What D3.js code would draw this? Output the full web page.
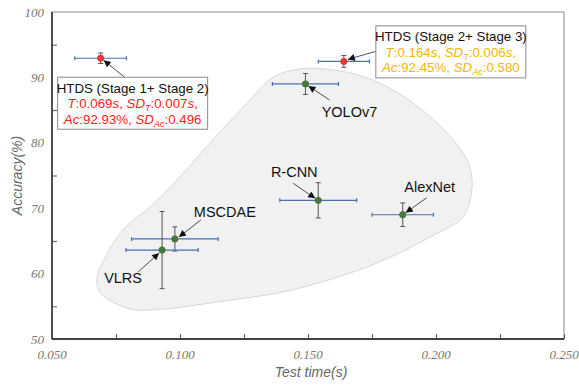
<!DOCTYPE html>
<html>
<head>
<meta charset="utf-8">
<script src="https://cdn.jsdelivr.net/npm/d3@7"></script>
<style>
  body { margin: 0; background: #fff; }
  svg { display: block; font-family: "Liberation Sans", Arial, sans-serif; }
</style>
</head>
<body>
<div id="chart"></div>
<script>
// ---- data ----
const models = ['HTDS12', 'HTDS23', 'YOLOv7', 'R-CNN', 'AlexNet', 'MSCDAE', 'VLRS'];
const testTime = [0.069, 0.164, 0.149, 0.154, 0.187, 0.098, 0.093];
const timeErr = [0.0101, 0.0100, 0.0129, 0.0150, 0.0120, 0.0169, 0.0141];
const accuracy = [92.93, 92.45, 89.0, 71.2, 69.0, 65.3, 63.6];
const accErr = [0.8, 0.9, 1.6, 2.7, 1.8, 1.85, 5.9];
const isHTDS = [true, true, false, false, false, false, false];

const xTicks = [0.050, 0.100, 0.150, 0.200, 0.250];
const yTicks = [50, 60, 70, 80, 90, 100];

// outline of the shaded region (time, accuracy)
const blobTime = [0.1469, 0.1652, 0.1781, 0.1910, 0.2043, 0.2121, 0.2141, 0.2133, 0.2102, 0.1977,
  0.1781, 0.1586, 0.1391, 0.1207, 0.0910, 0.0805, 0.0688, 0.0676, 0.0707, 0.0777, 0.0883, 0.0988,
  0.1145, 0.1273, 0.1359];
const blobAcc = [91.3, 90.8, 89.1, 86.1, 81.5, 77.4, 74.3, 71.3, 68.5, 65.6,
  61.8, 59.1, 57.1, 56.0, 54.5, 54.6, 57.1, 59.4, 62.4, 66.7, 70.2, 74.3,
  81.2, 86.5, 89.9];

// ---- layout ----
const width = 579, height = 386;
const margin = { top: 12, right: 15, bottom: 47, left: 52 };
const innerW = width - margin.left - margin.right;
const innerH = height - margin.top - margin.bottom;

const svg = d3.select('#chart').append('svg')
  .attr('width', width)
  .attr('height', height);

const x = d3.scaleLinear().domain([0.05, 0.25]).range([0, innerW]);
const y = d3.scaleLinear().domain([50, 100]).range([innerH, 0]);

const g = svg.append('g').attr('transform', `translate(${margin.left},${margin.top})`);

svg.append('defs').append('marker')
  .attr('id', 'arrow')
  .attr('viewBox', '0 0 10 10')
  .attr('refX', 10).attr('refY', 5)
  .attr('markerWidth', 9).attr('markerHeight', 7)
  .attr('markerUnits', 'userSpaceOnUse')
  .attr('orient', 'auto')
  .append('path')
  .attr('d', 'M0,0L10,5L0,10Z')
  .attr('fill', '#111');

// shaded region
const blob = blobTime.map((t, i) => [x(t), y(blobAcc[i])]);
g.append('path')
  .attr('d', d3.line().curve(d3.curveCatmullRomClosed.alpha(0.5))(blob))
  .attr('fill', '#f1f1f1')
  .attr('stroke', '#cfcfcf')
  .attr('stroke-width', 0.8);

// frame
g.append('rect')
  .attr('width', innerW).attr('height', innerH)
  .attr('fill', 'none')
  .attr('stroke', '#8a8a8a')
  .attr('stroke-width', 1);

// axes
const xAxis = d3.axisBottom(x).tickValues(d3.range(0.05, 0.2501, 0.025))
  .tickSize(-5).tickFormat('');
g.append('g').attr('class', 'x axis')
  .attr('transform', `translate(0,${innerH})`)
  .call(xAxis)
  .call(s => s.select('.domain').remove())
  .call(s => s.selectAll('line').attr('stroke', '#555'));

const yAxis = d3.axisLeft(y).tickValues([55, 65, 75, 85, 95])
  .tickSize(-5).tickFormat('');
g.append('g').attr('class', 'y axis')
  .call(yAxis)
  .call(s => s.select('.domain').remove())
  .call(s => s.selectAll('line').attr('stroke', '#555'));

g.append('line').attr('x1', 0).attr('x2', 0).attr('y1', 0).attr('y2', innerH)
  .attr('stroke', '#444').attr('stroke-width', 1.8);
g.append('line').attr('x1', 0).attr('x2', innerW).attr('y1', innerH).attr('y2', innerH)
  .attr('stroke', '#444').attr('stroke-width', 1.8);

// tick labels
g.selectAll('.xlab').data(xTicks).enter().append('text')
  .attr('x', d => x(d)).attr('y', innerH + 20)
  .attr('text-anchor', 'middle')
  .attr('font-family', '"Liberation Serif", "Times New Roman", serif')
  .attr('font-style', 'italic').attr('font-size', 13).attr('fill', '#777')
  .text(d => d3.format('.3f')(d));

g.selectAll('.ylab').data(yTicks).enter().append('text')
  .attr('x', -8).attr('y', d => y(d)).attr('dy', '0.35em')
  .attr('text-anchor', 'end')
  .attr('font-family', '"Liberation Serif", "Times New Roman", serif')
  .attr('font-style', 'italic').attr('font-size', 13).attr('fill', '#777')
  .text(d => d);

// axis titles
g.append('text')
  .attr('x', innerW / 2 + 3).attr('y', innerH + 38)
  .attr('text-anchor', 'middle')
  .attr('font-style', 'italic').attr('font-size', 14).attr('fill', '#666')
  .text('Test time(s)');

g.append('text')
  .attr('transform', `translate(-30,${innerH / 2}) rotate(-90)`)
  .attr('text-anchor', 'middle')
  .attr('font-style', 'italic').attr('font-size', 14).attr('fill', '#666')
  .text('Accuracy(%)');

// error bars
const pts = models.map((m, i) => ({
  m, t: testTime[i], te: timeErr[i], a: accuracy[i], ae: accErr[i], htds: isHTDS[i]
}));

const eb = g.append('g');
pts.forEach(d => {
  const cx = x(d.t), cy = y(d.a);
  const x0 = x(d.t - d.te), x1 = x(d.t + d.te);
  const y0 = y(d.a - d.ae), y1 = y(d.a + d.ae);
  const hb = eb.append('g').attr('stroke', '#4a6fb5').attr('stroke-width', 1.2);
  hb.append('line').attr('x1', x0).attr('x2', x1).attr('y1', cy).attr('y2', cy);
  hb.append('line').attr('x1', x0).attr('x2', x0).attr('y1', cy - 2).attr('y2', cy + 2);
  hb.append('line').attr('x1', x1).attr('x2', x1).attr('y1', cy - 2).attr('y2', cy + 2);
  const vb = eb.append('g').attr('stroke', '#555').attr('stroke-width', 1);
  vb.append('line').attr('x1', cx).attr('x2', cx).attr('y1', y0).attr('y2', y1);
  vb.append('line').attr('x1', cx - 2.5).attr('x2', cx + 2.5).attr('y1', y0).attr('y2', y0);
  vb.append('line').attr('x1', cx - 2.5).attr('x2', cx + 2.5).attr('y1', y1).attr('y2', y1);
});

g.selectAll('.pt').data(pts).enter().append('circle')
  .attr('class', 'pt')
  .attr('cx', d => x(d.t)).attr('cy', d => y(d.a))
  .attr('r', 3.2)
  .attr('fill', d => d.htds ? '#e8383a' : '#467a38')
  .attr('stroke', d => d.htds ? '#d02a2a' : '#3a6a2c')
  .attr('stroke-width', 0.6);

// ---- annotations (pixel offsets from each point) ----
const labelText = { 'YOLOv7': 'YOLOv7', 'R-CNN': 'R-CNN', 'AlexNet': 'AlexNet', 'MSCDAE': 'MSCDAE', 'VLRS': 'VLRS' };
const labelPos = {
  'HTDS12': { tail: [24, 19], tip: [3, 2] },
  'HTDS23': { tail: [32, -10], tip: [4, -2] },
  'YOLOv7': { tx: 44, ty: 33, tail: [24, 16], tip: [3, 2] },
  'R-CNN': { tx: -24, ty: -23, tail: [-25, -17], tip: [-3, -2] },
  'AlexNet': { tx: 27, ty: -23, tail: [24, -17], tip: [3, -2] },
  'MSCDAE': { tx: 50, ty: -22, tail: [26, -19], tip: [4, -2] },
  'VLRS': { tx: -39, ty: 33, tail: [-24, 22], tip: [-3, 3] }
};

const ann = g.append('g');
pts.forEach(d => {
  const p = labelPos[d.m];
  const cx = x(d.t), cy = y(d.a);
  ann.append('line')
    .attr('x1', cx + p.tail[0]).attr('y1', cy + p.tail[1])
    .attr('x2', cx + p.tip[0]).attr('y2', cy + p.tip[1])
    .attr('stroke', '#222').attr('stroke-width', 0.8)
    .attr('marker-end', 'url(#arrow)');
  if (labelText[d.m]) {
    ann.append('text')
      .attr('x', cx + p.tx).attr('y', cy + p.ty)
      .attr('text-anchor', 'middle')
      .attr('font-size', 14.5).attr('fill', '#111')
      .text(labelText[d.m]);
  }
});

// info boxes
function infoBox(d, box, title, color) {
  const cx = x(d.t), cy = y(d.a);
  const bx = cx + box.dx, by = cy + box.dy;
  const bg = ann.append('g').attr('transform', `translate(${bx},${by})`);
  bg.append('rect').attr('width', box.w).attr('height', box.h)
    .attr('fill', '#fff').attr('stroke', '#8a8a8a').attr('stroke-width', 1);
  const fs = 13.3;
  const mid = box.w / 2;
  bg.append('text').attr('x', mid).attr('y', 15.5).attr('text-anchor', 'middle')
    .attr('font-size', fs).attr('fill', '#111').text(title);
  const t2 = bg.append('text').attr('x', mid).attr('y', 31).attr('text-anchor', 'middle')
    .attr('font-size', fs).attr('fill', color);
  const parts2 = [['T', 'i'], [':' + d3.format('.3f')(d.t), 'n'], ['s', 'i'], [', ', 'n'], ['SD', 'i'],
    ['T', 'sub'], [':' + box.sdT, 'n'], ['s', 'i'], [',', 'n']];
  const t3 = bg.append('text').attr('x', mid).attr('y', 46.5).attr('text-anchor', 'middle')
    .attr('font-size', fs).attr('fill', color);
  const parts3 = [['Ac', 'i'], [':' + d3.format('.2f')(d.a) + '%, ', 'n'], ['SD', 'i'], ['Ac', 'sub'],
    [':' + box.sdAc, 'n']];
  [[t2, parts2], [t3, parts3]].forEach(([t, parts]) => {
    let sub = false;
    parts.forEach(([s, k]) => {
      const ts = t.append('tspan').text(s);
      if (k === 'i') ts.attr('font-style', 'italic');
      if (k === 'sub') {
        ts.attr('font-style', 'italic').attr('font-size', 9).attr('dy', 3);
        sub = true;
      } else if (sub) {
        ts.attr('dy', -3);
        sub = false;
      }
    });
  });
}

infoBox(pts[0], { dx: -43, dy: 19, w: 150, h: 52, sdT: '0.007', sdAc: '0.496' },
  'HTDS (Stage 1+ Stage 2)', '#ff2020');
infoBox(pts[1], { dx: 32, dy: -35.5, w: 150, h: 52, sdT: '0.006', sdAc: '0.580' },
  'HTDS (Stage 2+ Stage 3)', '#f7b500');
</script>
</body>
</html>
